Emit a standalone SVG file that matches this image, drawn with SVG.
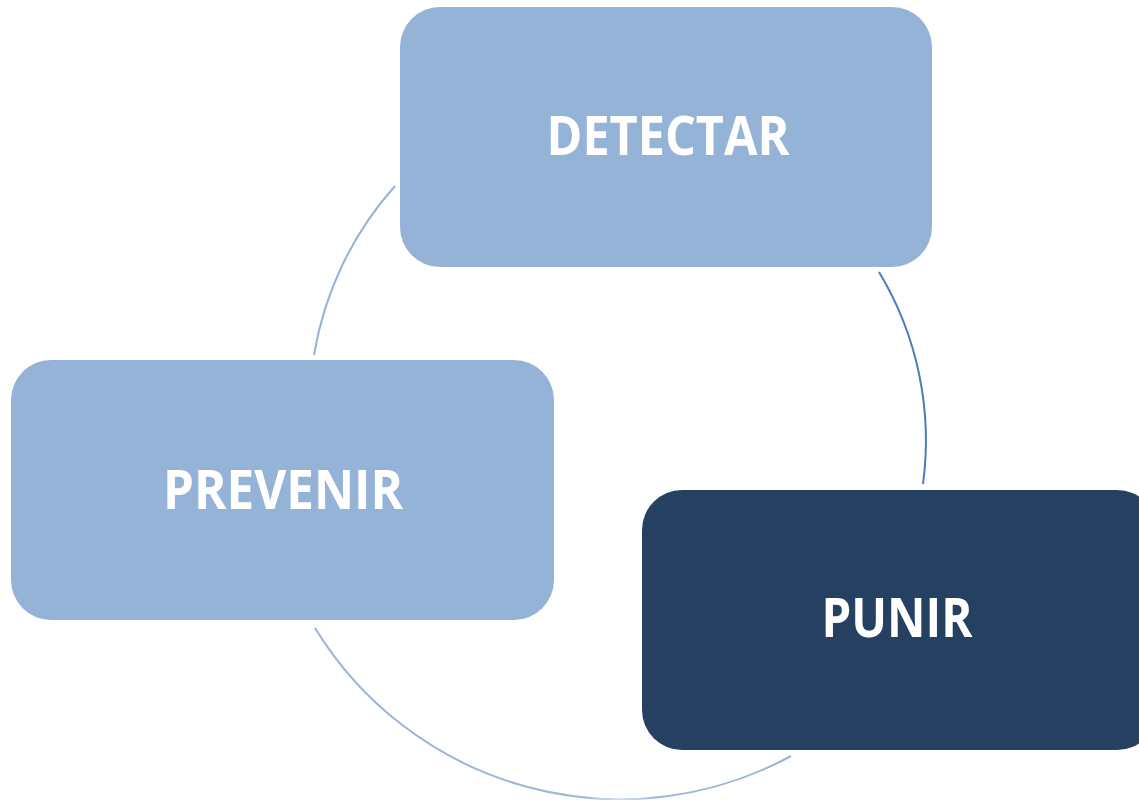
<svg xmlns="http://www.w3.org/2000/svg" width="1139" height="800" viewBox="0 0 1139 800">
<style>
.light{fill:#95B3D7;}
.dark{fill:#264062;}
.lbl{font-family:"Open Sans","Noto Sans",sans-serif;font-weight:bold;font-size:53px;fill:#FFFFFF;text-anchor:middle;}
.arc{fill:none;stroke-width:2;}
</style>
<defs>
<linearGradient id="bottomGrad" gradientUnits="userSpaceOnUse" x1="315" y1="0" x2="791" y2="0">
<stop offset="0" stop-color="#95B3D7"/>
<stop offset="0.56" stop-color="#9DB8DA"/>
<stop offset="0.64" stop-color="#D3DEED"/>
<stop offset="0.72" stop-color="#9DB8DA"/>
<stop offset="1" stop-color="#95B3D7"/>
</linearGradient>
</defs>
<rect width="1139" height="800" fill="#FFFFFF"/>
<g id="connectors">
<path class="arc" d="M314,355 A336,336 0 0 1 395,186" stroke="#95B3D7"/>
<path class="arc" d="M879,272 A326,326 0 0 1 923,484" stroke="#4A7EBB" stroke-width="2.4"/>
<path class="arc" d="M791,756 A358,358 0 0 1 315,628" stroke="url(#bottomGrad)"/>
</g>
<g id="node-detectar">
<rect class="light" x="400" y="7" width="532" height="260" rx="40" ry="40"/>
<text class="lbl" x="668" y="155" textLength="243" lengthAdjust="spacingAndGlyphs">DETECTAR</text>
</g>
<g id="node-prevenir">
<rect class="light" x="11" y="360" width="543" height="260" rx="40" ry="40"/>
<text class="lbl" x="283" y="509" textLength="240" lengthAdjust="spacingAndGlyphs">PREVENIR</text>
</g>
<g id="node-punir">
<rect class="dark" x="642" y="490" width="515" height="260" rx="40" ry="40"/>
<text class="lbl" x="897" y="637" textLength="151" lengthAdjust="spacingAndGlyphs">PUNIR</text>
</g>
</svg>
